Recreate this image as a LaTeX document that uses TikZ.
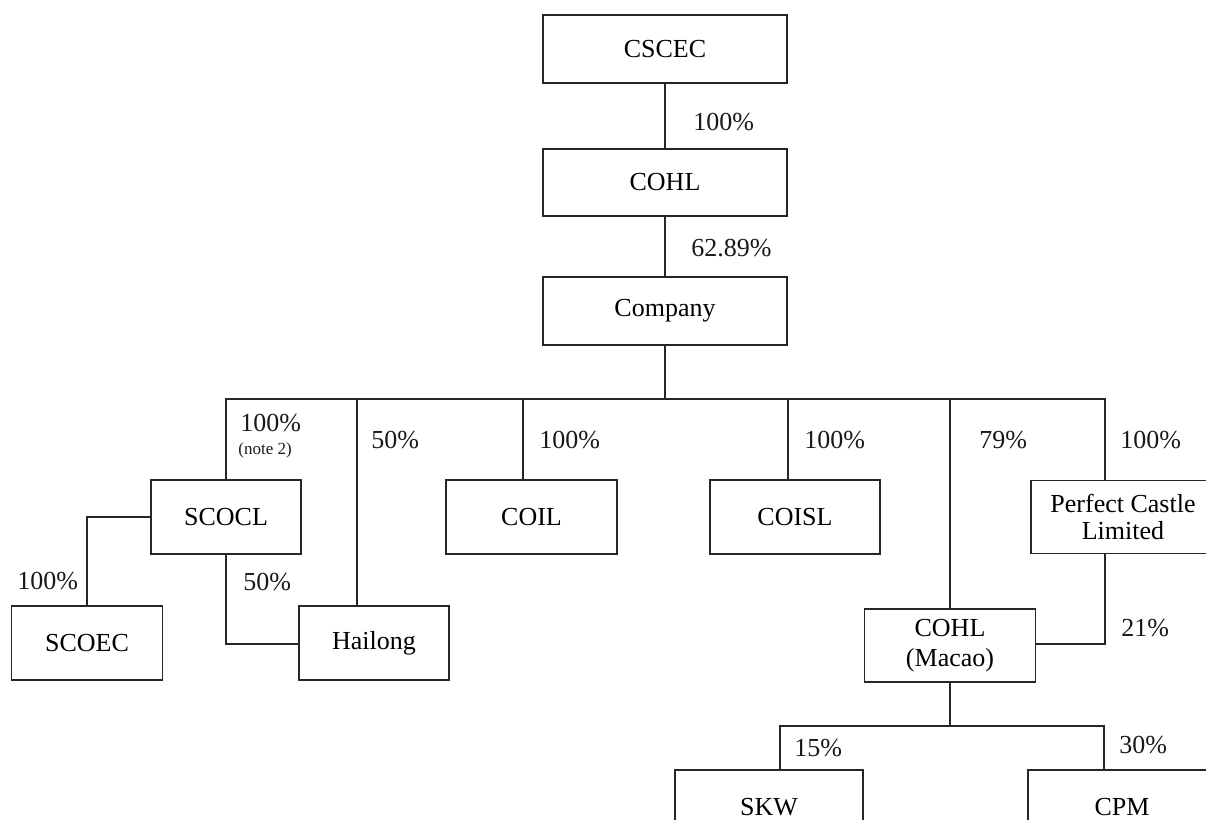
\documentclass[tikz,border=0pt]{standalone}
\usepackage{fontspec}
\setmainfont{Liberation Serif}
\usetikzlibrary{calc}
\tikzset{
  ent/.style={draw=black!85, line width=0.65pt, fill=white, inner sep=2pt,
    align=center, font=\fontsize{13}{14}\selectfont},
  pct/.style={anchor=west, inner sep=0pt, font=\fontsize{13}{14}\selectfont, text=black!90},
  notelbl/.style={anchor=west, inner sep=0pt, font=\fontsize{8.5}{9}\selectfont, text=black!90},
  link/.style={draw=black!85, line width=0.65pt}
}
\begin{document}
\begin{tikzpicture}[x=0.5pt,y=-0.5pt]
\useasboundingbox (0,0) rectangle (1206,820);
\clip (0,0) rectangle (1206,820);
% entities
\node[ent, minimum width=122pt, minimum height=34pt] (cscec) at (665,49) {CSCEC};
\node[ent, minimum width=122pt, minimum height=33.5pt] (cohl) at (665,182.5) {COHL};
\node[ent, minimum width=122pt, minimum height=34pt] (company) at (665,311) {Company};
\node[ent, minimum width=75pt, minimum height=37pt] (scocl) at (226,517) {SCOCL};
\node[ent, minimum width=75.5pt, minimum height=37pt] (scoec) at (87,643) {SCOEC};
\node[ent, minimum width=75pt, minimum height=37pt] (hailong) at (374,643) {Hailong};
\node[ent, minimum width=85.5pt, minimum height=37pt] (coil) at (531.5,517) {COIL};
\node[ent, minimum width=85pt, minimum height=37pt] (coisl) at (795,517) {COISL};
\node[ent, minimum width=92pt, minimum height=36.5pt, font=\fontsize{13}{13.5}\selectfont] (pcl) at (1123,517) {Perfect Castle\\Limited};
\node[ent, minimum width=85.5pt, minimum height=36.5pt, font=\fontsize{13}{15}\selectfont] (macao) at (950,645.5) {COHL\\(Macao)};
\node[ent, minimum width=94pt, minimum height=37pt] (skw) at (769,807) {SKW};
\node[ent, minimum width=94pt, minimum height=37pt] (cpm) at (1122,807) {CPM};
% bus coordinates
\coordinate (bus) at (665,399);
\coordinate (mbus) at (950,726);
% connectors
\draw[link] (cscec.south) -- (cohl.north);
\draw[link] (cohl.south) -- (company.north);
\draw[link] (company.south) -- (bus);
\draw[link] (bus) -| (scocl.north);
\draw[link] (bus) -| ($(hailong.north)+(-17,0)$);
\draw[link] (bus) -| ($(coil.north)+(-8.5,0)$);
\draw[link] (bus) -| ($(coisl.north)+(-7,0)$);
\draw[link] (bus) -| (macao.north);
\draw[link] (bus) -| ($(pcl.north)+(-18,0)$);
\draw[link] (scocl.west) -| (scoec.north);
\draw[link] (scocl.south) |- ($(hailong.west)+(0,1)$);
\draw[link] ($(pcl.south)+(-18,0)$) |- ($(macao.east)+(0,-1.5)$);
\draw[link] (macao.south) -- (mbus);
\draw[link] (mbus) -| ($(skw.north)+(11,0)$);
\draw[link] (mbus) -| ($(cpm.north)+(-18,0)$);
% labels
\node[pct] (l1) at (693,122) {100\%};
\node[pct] (l2) at (691,248) {62.89\%};
\node[pct] (l3) at (240,423) {100\%};
\node[notelbl] (l3n) at (238,450) {(note 2)};
\node[pct] (l4) at (371,440) {50\%};
\node[pct] (l5) at (539,440) {100\%};
\node[pct] (l6) at (804,440) {100\%};
\node[pct] (l7) at (979,440) {79\%};
\node[pct] (l8) at (1120,440) {100\%};
\node[pct] (l9) at (1121,628) {21\%};
\node[pct] (l10) at (17,581) {100\%};
\node[pct] (l11) at (243,582) {50\%};
\node[pct] (l12) at (794,748) {15\%};
\node[pct] (l13) at (1119,745) {30\%};
\end{tikzpicture}
\end{document}
